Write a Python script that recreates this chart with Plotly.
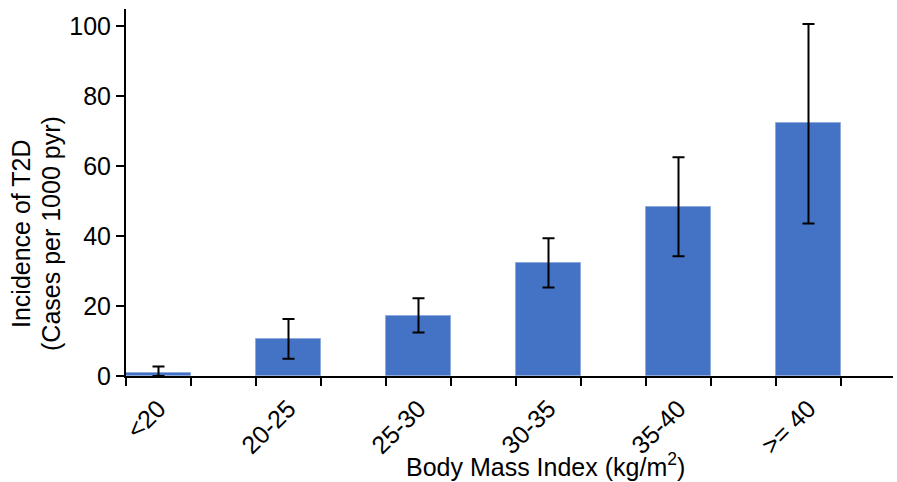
import plotly.graph_objects as go

categories = ["<20", "20-25", "25-30", "30-35", "35-40", ">= 40"]
incidence = [0.95, 10.6, 17.2, 32.4, 48.3, 72.2]
ci_upper = [2.7, 16.3, 22.2, 39.4, 62.5, 100.6]
ci_lower = [0.0, 4.9, 12.4, 25.3, 34.2, 43.6]
y_ticks = [0, 20, 40, 60, 80, 100]
x_title = "Body Mass Index (kg/m<sup>2</sup>)"
y_title_lines = ["Incidence of T2D", "(Cases per 1000 pyr)"]

# each category occupies every second slot (empty slot between bars)
x_pos = [2 * i + 0.5 for i in range(len(categories))]
err_plus = [u - v for u, v in zip(ci_upper, incidence)]
err_minus = [v - l for v, l in zip(incidence, ci_lower)]

FONT = "Liberation Sans, Arial, sans-serif"
FS = 25

fig = go.Figure(
    go.Bar(
        x=x_pos,
        y=incidence,
        width=1.0,
        marker=dict(color="#4472C4", line=dict(color="#8FAADC", width=1)),
        error_y=dict(
            type="data",
            symmetric=False,
            array=err_plus,
            arrayminus=err_minus,
            color="black",
            thickness=2,
            width=6,
        ),
    )
)

fig.update_layout(
    width=897,
    height=482,
    margin=dict(l=126, r=4, t=9, b=106),
    paper_bgcolor="white",
    plot_bgcolor="white",
    showlegend=False,
    font=dict(family=FONT, size=FS, color="black"),
    bargap=0,
)

fig.update_xaxes(
    range=[0, 11.8],
    tickvals=x_pos,
    ticktext=categories,
    tickangle=-45,
    ticks="",
    ticklabelstandoff=6,
    showgrid=False,
    zeroline=False,
    showline=True,
    linecolor="black",
    linewidth=2,
    tickfont=dict(size=FS),
    minor=dict(ticks="outside", tick0=0, dtick=1, ticklen=8, tickwidth=2,
               tickcolor="black", showgrid=False),
)

fig.update_yaxes(
    range=[0, 104.9],
    tickvals=y_ticks,
    ticks="outside",
    ticklen=8,
    tickwidth=2,
    tickcolor="black",
    showgrid=False,
    zeroline=False,
    showline=True,
    linecolor="black",
    linewidth=2,
    tickfont=dict(size=FS),
)

# axis titles (placed as annotations to match the reference offsets)
fig.add_annotation(text=x_title, xref="paper", yref="paper", x=0, y=0,
                   xanchor="center", yanchor="middle", xshift=545 - 126, yshift=-89,
                   showarrow=False, font=dict(size=FS))
for i, line in enumerate(y_title_lines):
    fig.add_annotation(text=line, xref="paper", yref="paper", x=0, y=0,
                       xanchor="center", yanchor="middle", textangle=-90,
                       xshift=(21 + 30 * i) - 126, yshift=376 - 234,
                       showarrow=False, font=dict(size=FS))

fig.write_html("out.html")
